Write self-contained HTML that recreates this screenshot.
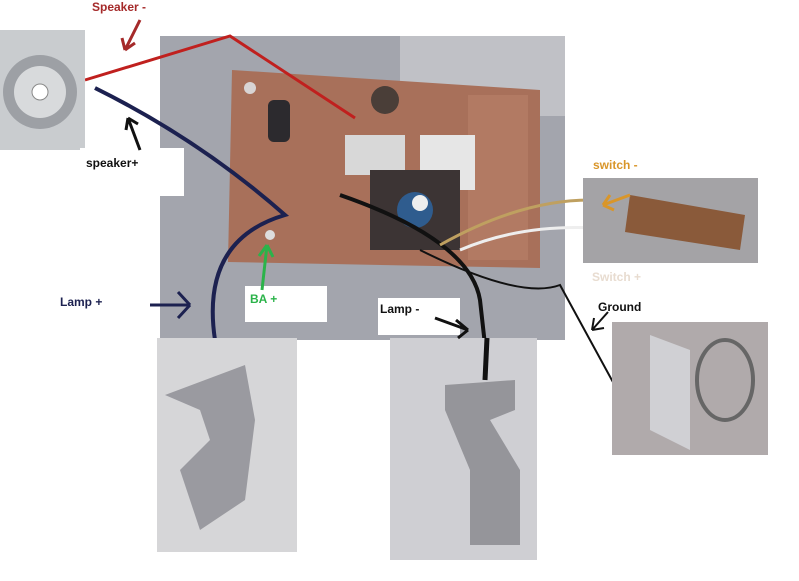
<!DOCTYPE html>
<html><head><style>
body{margin:0;background:#fff;width:799px;height:581px;overflow:hidden;position:relative;font-family:"Liberation Sans",sans-serif}
.t{position:absolute;font-weight:bold;font-size:12px}
</style></head><body>
<svg width="799" height="581" style="position:absolute;left:0;top:0">
<!-- main photo -->
<rect x="160" y="36" width="405" height="304" fill="#a3a5ad"/>
<rect x="400" y="36" width="165" height="80" fill="#c0c1c6"/>
<!-- board -->
<path d="M232 70 L540 90 L540 268 L228 262 Z" fill="#a8705a"/>
<rect x="468" y="95" width="60" height="165" fill="#b27a63"/>
<circle cx="250" cy="88" r="6" fill="#d8d4d4"/>
<rect x="268" y="100" width="22" height="42" rx="6" fill="#2c2a2e"/>
<circle cx="385" cy="100" r="14" fill="#4a3e38"/>
<rect x="345" y="135" width="60" height="40" fill="#d8d8d8"/>
<rect x="420" y="135" width="55" height="55" fill="#e6e6e6"/>
<rect x="370" y="170" width="90" height="80" fill="#3c3434"/>
<circle cx="415" cy="210" r="18" fill="#2f5c8e"/>
<circle cx="420" cy="203" r="8" fill="#eee"/>
<circle cx="270" cy="235" r="5" fill="#ddd"/>
<!-- wires -->
<path d="M85 80 L230 36 L355 118" stroke="#c0201e" stroke-width="3" fill="none"/>
<path d="M95 88 Q200 140 285 215 Q200 240 215 340" stroke="#1c2150" stroke-width="4" fill="none"/>
<path d="M340 195 Q470 240 480 300 L485 345" stroke="#111" stroke-width="4" fill="none"/>
<path d="M440 245 Q520 200 590 200 L650 205" stroke="#bfa060" stroke-width="3" fill="none"/>
<path d="M460 250 Q530 220 620 230" stroke="#eee" stroke-width="3" fill="none"/>
<path d="M420 250 Q520 300 560 285 L620 395" stroke="#111" stroke-width="2" fill="none"/>
<!-- speaker -->
<rect x="0" y="30" width="85" height="120" fill="#c9cccf"/>
<circle cx="40" cy="92" r="37" fill="#9da0a5"/>
<circle cx="40" cy="92" r="26" fill="#d8dadc"/>
<circle cx="40" cy="92" r="8" fill="#fff" stroke="#888"/>
<!-- switch -->
<rect x="583" y="178" width="175" height="85" fill="#a4a3a6"/>
<path d="M630 195 L745 215 L740 250 L625 232 Z" fill="#8a5a3a"/>
<!-- ground -->
<rect x="612" y="322" width="156" height="133" fill="#b0aaab"/>
<path d="M650 335 L690 350 L690 450 L650 430 Z" fill="#d0d0d4"/>
<ellipse cx="725" cy="380" rx="28" ry="40" fill="none" stroke="#666" stroke-width="4"/>
<!-- lamp+ -->
<rect x="157" y="338" width="140" height="214" fill="#d6d6d8"/>
<path d="M165 395 L245 365 L255 420 L245 500 L200 530 L180 470 L210 440 L200 410 Z" fill="#9a9aa0"/>
<!-- lamp- -->
<rect x="390" y="338" width="147" height="222" fill="#cfcfd3"/>
<path d="M445 385 L515 380 L515 410 L490 420 L520 470 L520 545 L470 545 L470 470 L445 410 Z" fill="#95959a"/>
<path d="M487 338 L485 380" stroke="#111" stroke-width="5"/>
<!-- label boxes -->
<rect x="80" y="148" width="104" height="48" fill="#fff"/>
<rect x="245" y="286" width="82" height="36" fill="#fff"/>
<rect x="378" y="298" width="82" height="37" fill="#fff"/>
<!-- arrows -->
<path d="M125 50 L140 20 M125 50 L122 38 M125 50 L135 43" stroke="#a52a2a" stroke-width="3" fill="none"/>
<path d="M128 118 L140 150 M128 118 L126 130 M128 118 L138 124" stroke="#111" stroke-width="3" fill="none"/>
<path d="M150 305 L190 305 M190 305 L178 292 M190 305 L178 318" stroke="#1c2150" stroke-width="3" fill="none"/>
<path d="M267 245 L262 290 M267 245 L259 256 M267 245 L273 257" stroke="#2bb34a" stroke-width="3" fill="none"/>
<path d="M435 318 L468 330 M468 330 L456 320 M468 330 L458 338" stroke="#111" stroke-width="3" fill="none"/>
<path d="M603 205 L630 195 M603 205 L610 195 M603 205 L614 210" stroke="#d9962a" stroke-width="3" fill="none"/>
<path d="M592 330 L608 312 M592 330 L594 318 M592 330 L604 328" stroke="#111" stroke-width="2" fill="none"/>
</svg>
<div class="t" style="left:92px;top:0px;color:#a52a2a">Speaker -</div>
<div class="t" style="left:86px;top:156px;color:#111">speaker+</div>
<div class="t" style="left:60px;top:295px;color:#1c2150">Lamp +</div>
<div class="t" style="left:250px;top:292px;color:#2bb34a">BA +</div>
<div class="t" style="left:380px;top:302px;color:#111">Lamp -</div>
<div class="t" style="left:593px;top:158px;color:#d9962a">switch -</div>
<div class="t" style="left:592px;top:270px;color:#e8dcd0">Switch +</div>
<div class="t" style="left:598px;top:300px;color:#111">Ground</div>
</body></html>
